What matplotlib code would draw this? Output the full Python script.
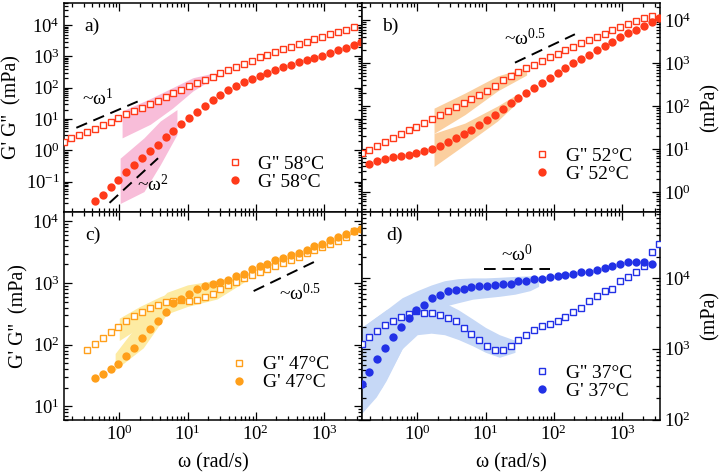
import matplotlib
matplotlib.use('Agg')
import matplotlib.pyplot as plt
from matplotlib.ticker import LogLocator, NullFormatter
import numpy as np

plt.rcParams['font.family'] = ['Liberation Serif', 'DejaVu Serif']
plt.rcParams['mathtext.fontset'] = 'custom'
plt.rcParams['mathtext.rm'] = 'Liberation Serif'
plt.rcParams['mathtext.it'] = 'Liberation Serif:italic'
plt.rcParams['mathtext.bf'] = 'Liberation Serif:bold'

# frequency grid (rad/s)
omega = [0.153, 0.199, 0.260, 0.338, 0.441, 0.574, 0.748, 0.974, 1.269, 1.653,
         2.153, 2.805, 3.653, 4.758, 6.198, 8.072, 10.51, 13.70, 17.84, 23.24,
         30.27, 39.43, 51.36, 66.90, 87.14, 113.5, 147.8, 192.6, 250.8, 326.7,
         425.6, 554.3, 722.1, 940.6, 1225, 1596, 2079, 2708, 3527]

# a) 58 C
a_loss = [1.9, 2.45, 3.1, 3.8, 4.9, 6.3, 7.9, 10.7, 14.1, 18.2, 22.9, 30, 38, 51, 66,
          85, 110, 145, 182, 224, 288, 372, 457, 575, 741, 955, 1150, 1380, 1700,
          2000, 2450, 2950, 3550, 4170, 5130, 6030, 7240, 8910]
a_storage = [0.0245, 0.037, 0.065, 0.112, 0.20, 0.35, 0.56, 0.93, 1.51, 2.63, 4.07,
             6.8, 10.5, 17.0, 26.3, 39.8, 58.9, 85.1, 117, 148, 191, 245, 295, 363,
             447, 537, 646, 776, 912, 1070, 1290, 1550, 1910, 2240, 2880]
band_a_loss_omega = [1.1, 2.85, 6.0, 12.0, 22.0]
band_a_loss_low = [2.5, 6.8, 22, 79, 178]
band_a_loss_high = [18, 45, 100, 209, 282]
band_a_storage_omega = [1.03, 2.3, 4.0, 7.0]
band_a_storage_low = [0.02, 0.048, 0.35, 3.2]
band_a_storage_high = [0.56, 2.5, 8.7, 20]

# b) 52 C
b_loss = [7.9, 9.5, 12.0, 14.5, 18.2, 21.9, 26.9, 33.1, 40.7, 50.1, 61.7, 75.9, 93.3,
          115, 145, 178, 224, 295, 398, 501, 631, 759, 891, 1120, 1350, 1660, 2000,
          2400, 2880, 3470, 4070, 4790, 5750, 6760, 7940, 9330, 11000, 12600]
b_storage = [4.5, 5.2, 5.9, 6.5, 6.8, 7.2, 7.9, 8.9, 10.2, 11.7, 14.5, 17.8, 22.4,
             28.2, 36.3, 47.9, 61.7, 83.2, 115, 151, 200, 263, 347, 457, 589, 759,
             977, 1260, 1580, 2000, 2510, 3160, 3980, 4900, 6030, 7410, 9120, 11200]
band_b_loss_omega = [1.76, 5.0, 15.0, 40.0]
band_b_loss_low = [23, 63, 224, 525]
band_b_loss_high = [89, 200, 500, 794]
band_b_storage_omega = [1.76, 5.0, 15.0, 31.0]
band_b_storage_low = [3.9, 12.6, 44.7, 132]
band_b_storage_high = [23, 40, 100, 200]

# c) 47 C
c_loss = [83, 102, 126, 158, 195, 240, 288, 339, 398, 447, 490, 513, 537, 513, 525,
          589, 676, 794, 933, 1050, 1200, 1350, 1510, 1660, 1860, 2140, 2340, 2630,
          3020, 3390, 3890, 4370, 4790, 5620, 6920]
c_storage = [28.8, 33.1, 39.8, 49.0, 64.6, 89.1, 126, 178, 245, 339, 468, 550, 676,
             794, 891, 977, 1050, 1120, 1290, 1410, 1660, 1860, 2040, 2340, 2570,
             2820, 3090, 3470, 3980, 4370, 4900, 5620, 6170, 6920, 7590]
band_c_loss_omega = [1.0, 2.0, 4.0, 6.0]
band_c_loss_low = [117, 191, 331, 417]
band_c_loss_high = [269, 417, 603, 708]
band_c_storage_omega = [0.87, 2.25, 5.0, 10, 27, 60, 75]
band_c_storage_low = [39, 89, 316, 417, 550, 955, 1120]
band_c_storage_high = [72, 282, 708, 933, 1120, 1320, 1320]

# d) 37 C
d_loss = [1170, 1450, 1780, 2140, 2450, 2820, 3090, 3390, 3240, 3160, 3020, 2690,
          2450, 1950, 1620, 1350, 1100, 977, 977, 1100, 1320, 1550, 1820, 2090, 2240,
          2450, 2820, 3310, 3800, 4680, 5500, 6460, 6920, 9120, 10200, 12000, 14800,
          22900, 30200]
d_storage = [316, 468, 708, 1020, 1480, 2000, 2690, 3470, 4170, 5130, 5750, 6460,
             6760, 7080, 7410, 7590, 7760, 7940, 8130, 8320, 8910, 9120, 9550, 9770,
             10200, 10700, 11000, 11500, 12000, 12300, 12900, 13800, 14500, 15500,
             16600, 17000, 17000, 15800]
band_d_upper_omega = [0.153, 0.3, 0.6, 1.0, 1.6, 2.5, 4.0, 6.5, 10, 16, 27, 45, 60]
band_d_upper_low = [123, 282, 1000, 2000, 2820, 3980, 4470, 5010, 5250, 5500, 5890, 6610, 7590]
band_d_upper_high = [2000, 3160, 5250, 6610, 7940, 9120, 9770, 10000, 10000, 10200, 10500, 10700, 10500]
band_d_lower_omega = [0.153, 0.25, 0.35, 0.6, 1.0, 1.6, 2.5, 4.0, 6.5, 10, 16, 27]
band_d_lower_low = [123, 209, 355, 1000, 1580, 1660, 1580, 1350, 1100, 891, 759, 891]
band_d_lower_high = [2000, 2820, 3550, 4470, 5250, 5250, 4470, 3550, 2630, 2000, 1580, 1320]

red = '#ff3a1a'
orange = '#ff9f1a'
blue = '#2231e6'

W, H = 720.0, 475.0
TICK_FS = 13.5
LABEL_FS = 14.5
LEGEND_FS = 14


def px_axes(x0, y0, x1, y1):
    return [x0 / W, 1 - y1 / H, (x1 - x0) / W, (y1 - y0) / H]


def style_axis(ax, ylim, right=False, xlabels=False):
    ax.set_xscale('log')
    ax.set_yscale('log')
    ax.set_xlim(0.155, 3600)
    ax.set_ylim(*ylim)
    for axis in (ax.xaxis, ax.yaxis):
        axis.set_major_locator(LogLocator(base=10, numticks=20))
        axis.set_minor_locator(LogLocator(base=10, subs=np.arange(2, 10), numticks=20))
        axis.set_minor_formatter(NullFormatter())
    ax.tick_params(which='both', direction='in', top=True, bottom=True,
                   left=True, right=True, width=0.9)
    ax.tick_params(which='major', length=6, labelsize=TICK_FS, pad=3)
    ax.tick_params(which='minor', length=3)
    ax.tick_params(labelleft=not right, labelright=right, labelbottom=xlabels)
    for spine in ax.spines.values():
        spine.set_linewidth(1.1)
    if right:
        ax.yaxis.set_label_position('right')
        ax.set_ylabel('(mPa)', fontsize=LABEL_FS, labelpad=6)
    else:
        ax.set_ylabel("G' G''  (mPa)", fontsize=LABEL_FS, labelpad=3)
    if xlabels:
        ax.set_xlabel('ω (rad/s)', fontsize=LABEL_FS, labelpad=7)


def draw_series(ax, w_loss, loss, w_sto, sto, color, temp):
    ax.plot(w_loss, loss, ls='none', marker='s', ms=4.6, mfc='white', mec=color,
            mew=1.0, zorder=3, label=f"G'' {temp}°C")
    ax.plot(w_sto, sto, ls='none', marker='o', ms=6.0, mfc=color, mec=color,
            mew=0, zorder=3, label=f"G' {temp}°C")


def add_legend(ax, x, y):
    ax.legend(loc='center left', bbox_to_anchor=(x, y), frameon=False,
              fontsize=LEGEND_FS, handlelength=1.0, handletextpad=0.7,
              labelspacing=0.02, borderaxespad=0, borderpad=0, numpoints=1)


def slope_label(ax, x, y, power):
    ax.text(x, y, '~$\\mathrm{ω}^{%s}$' % power, fontsize=14, ha='left', va='baseline')


fig = plt.figure(figsize=(W / 100, H / 100), dpi=100)
ax_a = fig.add_axes(px_axes(64, 3, 362, 212))
ax_b = fig.add_axes(px_axes(362, 3, 660, 212))
ax_c = fig.add_axes(px_axes(64, 212, 362, 420))
ax_d = fig.add_axes(px_axes(362, 212, 660, 420))

dash = dict(color='black', lw=1.4, ls=(0, (6, 3.5)), zorder=2)

# a)
ax_a.fill_between(band_a_loss_omega, band_a_loss_low, band_a_loss_high,
                  color='#f8bdd9', lw=0, zorder=1)
ax_a.fill_between(band_a_storage_omega, band_a_storage_low, band_a_storage_high,
                  color='#f8bdd9', lw=0, zorder=1)
draw_series(ax_a, omega[0:38], a_loss, omega[4:39], a_storage, red, 58)
ax_a.plot([0.235, 1.86], [5.25, 36.3], **dash)
ax_a.plot([0.72, 3.7], [0.021, 0.56], **dash)
slope_label(ax_a, 0.286, 28, '1')
slope_label(ax_a, 1.84, 0.048, '2')
style_axis(ax_a, (0.0107, 51000))
add_legend(ax_a, 0.54, 0.187)
ax_a.text(0.07, 0.89, 'a)', transform=ax_a.transAxes, fontsize=14, va='center')

# b)
ax_b.fill_between(band_b_loss_omega, band_b_loss_low, band_b_loss_high,
                  color='#fbcf9f', lw=0, zorder=1)
ax_b.fill_between(band_b_storage_omega, band_b_storage_low, band_b_storage_high,
                  color='#fbcf9f', lw=0, zorder=1)
draw_series(ax_b, omega[0:38], b_loss, omega[1:39], b_storage, red, 52)
ax_b.plot([27, 204], [1020, 4680], **dash)
slope_label(ax_b, 18.6, 2600, '0.5')
style_axis(ax_b, (0.34, 25000), right=True)
add_legend(ax_b, 0.572, 0.225)
ax_b.text(0.067, 0.89, 'b)', transform=ax_b.transAxes, fontsize=14, va='center')

# c)
ax_c.fill_between(band_c_loss_omega, band_c_loss_low, band_c_loss_high,
                  color='#fdeba3', lw=0, zorder=1)
ax_c.fill_between(band_c_storage_omega, band_c_storage_low, band_c_storage_high,
                  color='#fdeba3', lw=0, zorder=1)
draw_series(ax_c, omega[3:38], c_loss, omega[4:39], c_storage, orange, 47)
ax_c.plot([93, 710], [741, 2190], **dash)
slope_label(ax_c, 218, 525, '0.5')
style_axis(ax_c, (6.0, 14200), xlabels=True)
add_legend(ax_c, 0.556, 0.223)
ax_c.text(0.07, 0.89, 'c)', transform=ax_c.transAxes, fontsize=14, va='center')

# d)
ax_d.fill_between(band_d_upper_omega, band_d_upper_low, band_d_upper_high,
                  color='#c6d8f6', lw=0, zorder=1)
ax_d.fill_between(band_d_lower_omega, band_d_lower_low, band_d_lower_high,
                  color='#c6d8f6', lw=0, zorder=1)
draw_series(ax_d, omega[0:39], d_loss, omega[0:38], d_storage, blue, 37)
ax_d.plot([9.5, 89], [13500, 13500], **dash)
slope_label(ax_d, 16.6, 17000, '0')
style_axis(ax_d, (99, 85000), right=True, xlabels=True)
add_legend(ax_d, 0.572, 0.182)
ax_d.text(0.08, 0.89, 'd)', transform=ax_d.transAxes, fontsize=14, va='center')

fig.savefig('out.png', dpi=100)
